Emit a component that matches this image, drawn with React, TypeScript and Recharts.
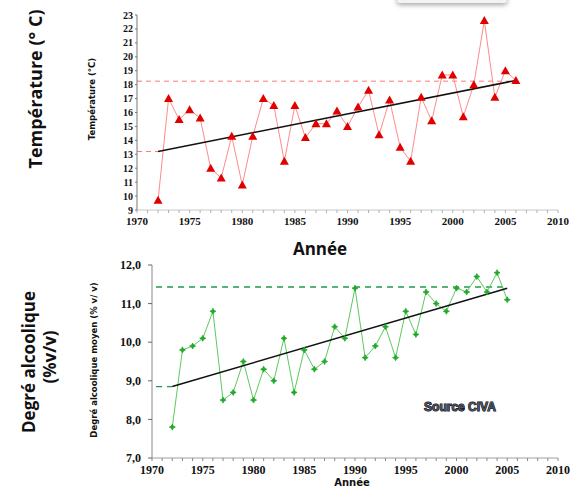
import React from 'react';
import { LineChart, Line, XAxis, YAxis, ReferenceLine } from 'recharts';

// Top chart: temperature by year
const tempYears = [
  1972, 1973, 1974, 1975, 1976, 1977, 1978, 1979, 1980, 1981, 1982, 1983,
  1984, 1985, 1986, 1987, 1988, 1989, 1990, 1991, 1992, 1993, 1994, 1995,
  1996, 1997, 1998, 1999, 2000, 2001, 2002, 2003, 2004, 2005, 2006,
];
const temperature = [
  9.7, 17.0, 15.5, 16.2, 15.6, 12.0, 11.3, 14.3, 10.8, 14.3, 17.0, 16.5,
  12.5, 16.5, 14.2, 15.2, 15.2, 16.1, 15.0, 16.4, 17.6, 14.4, 16.9, 13.5,
  12.5, 17.1, 15.4, 18.7, 18.7, 15.7, 18.0, 22.6, 17.1, 19.0, 18.3,
];
const tempTrend = [
  { year: 1972, value: 13.2 },
  { year: 2006, value: 18.3 },
];
const tempLow = 13.2;
const tempHigh = 18.25;
const tempTicks = [9, 10, 11, 12, 13, 14, 15, 16, 17, 18, 19, 20, 21, 22, 23];

// Bottom chart: mean alcohol degree by year
const alcYears = [
  1972, 1973, 1974, 1975, 1976, 1977, 1978, 1979, 1980, 1981, 1982, 1983,
  1984, 1985, 1986, 1987, 1988, 1989, 1990, 1991, 1992, 1993, 1994, 1995,
  1996, 1997, 1998, 1999, 2000, 2001, 2002, 2003, 2004, 2005,
];
const alcohol = [
  7.8, 9.8, 9.9, 10.1, 10.8, 8.5, 8.7, 9.5, 8.5, 9.3, 9.0, 10.1,
  8.7, 9.8, 9.3, 9.5, 10.4, 10.1, 11.4, 9.6, 9.9, 10.4, 9.6, 10.8,
  10.2, 11.3, 11.0, 10.8, 11.4, 11.3, 11.7, 11.3, 11.8, 11.1,
];
const alcTrend = [
  { year: 1972, value: 8.85 },
  { year: 2005, value: 11.4 },
];
const alcLow = 8.85;
const alcHigh = 11.43;
const alcTicks = [7, 8, 9, 10, 11, 12];

const yearLabels = [1970, 1975, 1980, 1985, 1990, 1995, 2000, 2005, 2010];
const minorYears = Array.from({ length: 41 }, (_, i) => 1970 + i);

const tempData = tempYears.map((year, i) => ({ year, temp: temperature[i] }));
const alcData = alcYears.map((year, i) => ({ year, alc: alcohol[i] }));

const tickFont = '"Liberation Serif", "DejaVu Serif", serif';
const titleFont = '"Open Sans", "Noto Sans", sans-serif';

function YearTick(props: any) {
  const { x, y, payload, fontSize } = props;
  if (!yearLabels.includes(payload.value)) return null;
  return (
    <text
      x={x}
      y={y}
      dy="0.75em"
      textAnchor="middle"
      fontFamily={tickFont}
      fontWeight={700}
      fontSize={fontSize}
      fill="#111"
    >
      {payload.value}
    </text>
  );
}

function TriangleDot(props: any) {
  const { cx, cy } = props;
  if (cx == null || cy == null) return null;
  return (
    <polygon
      points={`${cx},${cy - 4.5} ${cx - 4.5},${cy + 3.5} ${cx + 4.5},${cy + 3.5}`}
      fill="#e00000"
    />
  );
}

function StarDot(props: any) {
  const { cx, cy } = props;
  if (cx == null || cy == null) return null;
  const p = [
    [0, -3], [1, -1], [3, 0], [1, 1], [0, 3], [-1, 1], [-3, 0], [-1, -1],
  ]
    .map(([dx, dy]) => `${cx + dx},${cy + dy}`)
    .join(' ');
  return <polygon points={p} fill="#1faa2a" stroke="#1faa2a" strokeWidth={0.8} />;
}

export default function App() {
  return (
    <div
      style={{
        position: 'absolute',
        left: 0,
        top: 0,
        width: 583,
        height: 487,
        background: '#fff',
        overflow: 'hidden',
      }}
    >
      {/* cut-off box at the top */}
      <div
        style={{
          position: 'absolute',
          left: 397,
          top: -14,
          width: 110,
          height: 17,
          background: '#f3f3f3',
          borderRadius: 3,
          boxShadow: '0 2px 5px rgba(0,0,0,0.35)',
        }}
      />

      <div style={{ position: 'absolute', left: 0, top: 0 }}>
        <LineChart
          width={583}
          height={230}
          data={tempData}
          margin={{ top: 15, right: 25, left: 97, bottom: 0 }}
        >
          <XAxis
            type="number"
            dataKey="year"
            domain={[1970, 2010]}
            ticks={minorYears}
            interval={0}
            height={20}
            tickSize={3}
            tickMargin={4}
            axisLine={{ stroke: '#c8c8c8' }}
            tickLine={{ stroke: '#b0b0b0' }}
            tick={<YearTick fontSize={11} />}
          />
          <YAxis
            type="number"
            domain={[9, 23]}
            ticks={tempTicks}
            interval={0}
            width={40}
            tickSize={2}
            tickMargin={2}
            axisLine={{ stroke: '#777' }}
            tickLine={{ stroke: '#777' }}
            tick={{ fontFamily: tickFont, fontWeight: 700, fontSize: 10, fill: '#111' }}
          />
          <ReferenceLine
            segment={[
              { x: 1970, y: tempHigh },
              { x: 2006, y: tempHigh },
            ]}
            stroke="#ff7a7a"
            strokeDasharray="5 4"
          />
          <ReferenceLine
            segment={[
              { x: 1970, y: tempLow },
              { x: 1972, y: tempLow },
            ]}
            stroke="#ff7a7a"
            strokeDasharray="5 4"
          />
          <Line
            dataKey="temp"
            stroke="#ff8a8a"
            strokeWidth={1}
            dot={<TriangleDot />}
            activeDot={false}
            isAnimationActive={false}
          />
          <Line
            data={tempTrend}
            dataKey="value"
            stroke="#111"
            strokeWidth={1.5}
            dot={false}
            activeDot={false}
            isAnimationActive={false}
          />
        </LineChart>
      </div>

      <div style={{ position: 'absolute', left: 0, top: 240 }}>
        <LineChart
          width={583}
          height={247}
          data={alcData}
          margin={{ top: 25, right: 25, left: 107, bottom: 0 }}
        >
          <XAxis
            type="number"
            dataKey="year"
            domain={[1970, 2010]}
            ticks={minorYears}
            interval={0}
            height={29}
            tickSize={3}
            tickMargin={4}
            axisLine={{ stroke: '#a0a0a0' }}
            tickLine={{ stroke: '#888' }}
            tick={<YearTick fontSize={12} />}
          />
          <YAxis
            type="number"
            domain={[7, 12]}
            ticks={alcTicks}
            interval={0}
            width={45}
            tickSize={4}
            tickMargin={7}
            axisLine={{ stroke: '#888' }}
            tickLine={{ stroke: '#666' }}
            tickFormatter={(v: number) => v.toFixed(1).replace('.', ',')}
            tick={{ fontFamily: tickFont, fontWeight: 700, fontSize: 12, fill: '#111' }}
          />
          <ReferenceLine
            segment={[
              { x: 1970.4, y: alcHigh },
              { x: 2005, y: alcHigh },
            ]}
            stroke="#1f9a4a"
            strokeWidth={1.3}
            strokeDasharray="6 5"
          />
          <ReferenceLine
            segment={[
              { x: 1970.4, y: alcLow },
              { x: 1972, y: alcLow },
            ]}
            stroke="#1f9a4a"
            strokeWidth={1.3}
            strokeDasharray="6 5"
          />
          <Line
            dataKey="alc"
            stroke="#5cc95c"
            strokeWidth={1}
            dot={<StarDot />}
            activeDot={false}
            isAnimationActive={false}
          />
          <Line
            data={alcTrend}
            dataKey="value"
            stroke="#111"
            strokeWidth={1.5}
            dot={false}
            activeDot={false}
            isAnimationActive={false}
          />
        </LineChart>
      </div>

      <svg
        width={583}
        height={487}
        style={{ position: 'absolute', left: 0, top: 0, pointerEvents: 'none' }}
      >
        <g fontFamily={titleFont} fontWeight={700} fill="#111">
          <text
            transform="translate(35,89) rotate(-90)"
            textAnchor="middle"
            dominantBaseline="central"
            fontSize={18}
          >
            Température (°  C)
          </text>
          <text
            transform="translate(28,362) rotate(-90)"
            textAnchor="middle"
            dominantBaseline="central"
            fontSize={17}
          >
            Degré alcoolique
          </text>
          <text
            transform="translate(49,357) rotate(-90)"
            textAnchor="middle"
            dominantBaseline="central"
            fontSize={17}
          >
            (%v/v)
          </text>
          <text x={320} y={248} textAnchor="middle" dominantBaseline="central" fontSize={17}>
            Année
          </text>
        </g>
        <g fontFamily='"DejaVu Sans", sans-serif' fontWeight={700} fill="#111">
          <text
            transform="translate(92,99) rotate(-90)"
            textAnchor="middle"
            dominantBaseline="central"
            fontSize={8.5}
          >
            Température (°C)
          </text>
          <text
            transform="translate(94,360) rotate(-90)"
            textAnchor="middle"
            dominantBaseline="central"
            fontSize={8.5}
          >
            Degré alcoolique moyen (% v/ v)
          </text>
          <text x={352} y={486} textAnchor="middle" fontSize={10}>
            Année
          </text>
        </g>
        <text
          x={460}
          y={407}
          textAnchor="middle"
          dominantBaseline="central"
          fontFamily='"Liberation Sans", Arial, sans-serif'
          fontWeight={700}
          fontSize={12}
          fill="#4a5062"
          stroke="#000"
          strokeWidth={1}
          paintOrder="stroke"
        >
          Source CIVA
        </text>
      </svg>
    </div>
  );
}
